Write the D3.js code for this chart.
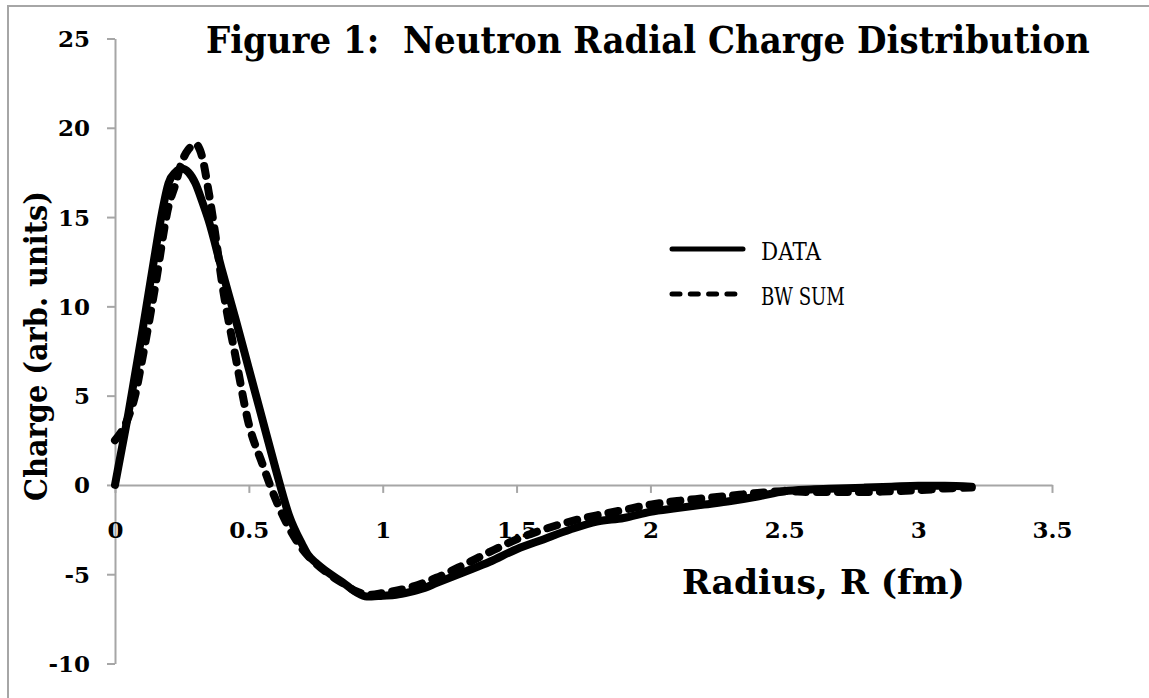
<!DOCTYPE html>
<html>
<head>
<meta charset="utf-8">
<script src="https://cdn.jsdelivr.net/npm/d3@7"></script>
<style>
  body { margin: 0; background: #fff; }
  text { font-family: "DejaVu Serif", serif; white-space: pre; }
</style>
</head>
<body>
<svg id="chart" width="1149" height="698"></svg>
<script>
// radius (fm) and charge (arb. units)
const dataR = [0, 0.025, 0.05, 0.075, 0.1, 0.125, 0.15, 0.175, 0.2, 0.225, 0.25, 0.275,
    0.3, 0.325, 0.35, 0.4, 0.45, 0.5, 0.55, 0.6, 0.65, 0.7, 0.72, 0.75,
    0.8, 0.85, 0.9, 0.94, 1.0, 1.05, 1.1, 1.15, 1.2, 1.3, 1.4, 1.5, 1.6, 1.7, 1.8, 1.9,
    2.0, 2.1, 2.2, 2.3, 2.4, 2.5, 2.6, 2.7, 2.8, 2.9, 3.0, 3.1, 3.2];
const dataQ = [0, 2.0, 4.0, 6.2, 8.4, 10.7, 13.0, 15.2, 16.9, 17.5, 17.7, 17.5,
    16.9, 15.9, 14.8, 12.0, 9.3, 6.5, 3.7, 0.9, -1.7, -3.35, -3.9, -4.35,
    -4.95, -5.45, -6.0, -6.25, -6.2, -6.15, -6.0, -5.8, -5.5, -4.9, -4.3, -3.6, -3.05, -2.5, -2.05, -1.85,
    -1.5, -1.3, -1.1, -0.9, -0.65, -0.35, -0.25, -0.2, -0.15, -0.1, -0.05, -0.05, -0.1];

const bwR = [0, 0.05, 0.075, 0.1, 0.15, 0.2, 0.225, 0.25, 0.275, 0.3, 0.325, 0.35, 0.375,
    0.4, 0.45, 0.5, 0.55, 0.6, 0.65, 0.7, 0.75, 0.8, 0.85, 0.9, 0.95, 1.0, 1.1, 1.2, 1.3,
    1.4, 1.5, 1.6, 1.7, 1.8, 1.9, 2.0, 2.1, 2.2, 2.3, 2.4, 2.5, 2.6, 2.7, 2.8, 2.9, 3.0, 3.1, 3.2];
const bwQ = [2.5, 3.8, 5.0, 6.9, 11.1, 15.6, 16.8, 18.1, 18.8, 19.1, 18.4, 16.4, 14.0,
    11.3, 7.2, 3.4, 1.2, -0.8, -2.4, -3.6, -4.4, -5.0, -5.5, -5.95, -6.15, -6.05, -5.75, -5.2, -4.5,
    -3.75, -3.05, -2.5, -2.05, -1.7, -1.4, -1.1, -0.9, -0.75, -0.6, -0.45, -0.35, -0.4, -0.4, -0.4, -0.35, -0.3, -0.2, -0.15];

const xTicks = [0, 0.5, 1, 1.5, 2, 2.5, 3, 3.5];
const yTicks = [-10, -5, 0, 5, 10, 15, 20, 25];
const seriesNames = ["DATA", "BW SUM"];

const svg = d3.select("#chart");
const axisColor = "#a6a6a6";

// outer frame (runs off the right and bottom edges)
svg.append("rect")
    .attr("x", 8).attr("y", 6)
    .attr("width", 1300).attr("height", 900)
    .attr("fill", "none")
    .attr("stroke", axisColor)
    .attr("stroke-width", 2);

const x = d3.scaleLinear().domain([0, 3.5]).range([115, 1052]);
const y = d3.scaleLinear().domain([-10, 25]).range([663.5, 38.5]);

// plain hyphen for negatives, like the original
const plain = d => String(d);

// y axis
const yAxis = svg.append("g")
    .attr("transform", "translate(" + x(0) + ",0)")
    .call(d3.axisLeft(y).tickValues(yTicks).tickSize(8).tickSizeOuter(0).tickPadding(17)
        .tickFormat(plain));
yAxis.select(".domain").attr("stroke", axisColor).attr("stroke-width", 2);
yAxis.selectAll(".tick line").attr("stroke", axisColor).attr("stroke-width", 2);
yAxis.selectAll(".tick text")
    .style("font-size", "23px").style("font-weight", "bold").attr("fill", "#000")
    .attr("dy", "0.35em");

// x axis through zero
const xAxis = svg.append("g")
    .attr("transform", "translate(0," + y(0) + ")")
    .call(d3.axisBottom(x).tickValues(xTicks).tickSize(8).tickSizeOuter(0).tickPadding(29)
        .tickFormat(plain));
xAxis.select(".domain").attr("stroke", axisColor).attr("stroke-width", 2);
xAxis.selectAll(".tick line").attr("stroke", axisColor).attr("stroke-width", 2);
xAxis.selectAll(".tick text")
    .style("font-size", "23px").style("font-weight", "bold").attr("fill", "#000");

const line = d3.line()
    .x(d => x(d[0]))
    .y(d => y(d[1]))
    .curve(d3.curveMonotoneX);

svg.append("path")
    .datum(d3.zip(dataR, dataQ))
    .attr("d", line)
    .attr("fill", "none")
    .attr("stroke", "#000")
    .attr("stroke-width", 8)
    .attr("stroke-linejoin", "round")
    .attr("stroke-linecap", "round");

svg.append("path")
    .datum(d3.zip(bwR, bwQ))
    .attr("d", line)
    .attr("fill", "none")
    .attr("stroke", "#000")
    .attr("stroke-width", 8)
    .attr("stroke-dasharray", "10,11")
    .attr("stroke-linejoin", "round")
    .attr("stroke-linecap", "round");

// scale a text horizontally so it spans the wanted width
function fitText(sel, px, py, width, rotate) {
    let len = sel.node().getComputedTextLength();
    let sx = width / len;
    sel.attr("transform", "translate(" + px + "," + py + ")" +
        (rotate ? " rotate(" + rotate + ")" : "") + " scale(" + sx + ",1)");
}

// legend
const legend = svg.append("g").attr("transform", "translate(672,249)");
seriesNames.forEach(function (name, i) {
    legend.append("line")
        .attr("x1", 0).attr("x2", 71)
        .attr("y1", i * 45).attr("y2", i * 45)
        .attr("stroke", "#000")
        .attr("stroke-width", 5)
        .attr("stroke-linecap", "round")
        .attr("stroke-dasharray", i === 1 ? "8,10.3" : null);
    let t = legend.append("text")
        .style("font-size", "24px")
        .text(name);
    fitText(t, 89, i * 45 + 11, i === 0 ? 60 : 84);
});

// titles
let title = svg.append("text")
    .style("font-size", "38px").style("font-weight", "bold")
    .text("Figure 1:  Neutron Radial Charge Distribution");
fitText(title, 206, 53, 884);

let xTitle = svg.append("text")
    .style("font-size", "33px").style("font-weight", "bold")
    .text("Radius, R (fm)");
fitText(xTitle, 682, 594, 283);

let yTitle = svg.append("text")
    .attr("text-anchor", "middle")
    .style("font-size", "32px").style("font-weight", "bold")
    .text("Charge (arb. units)");
fitText(yTitle, 47, 346, 310, -90);
</script>
</body>
</html>
